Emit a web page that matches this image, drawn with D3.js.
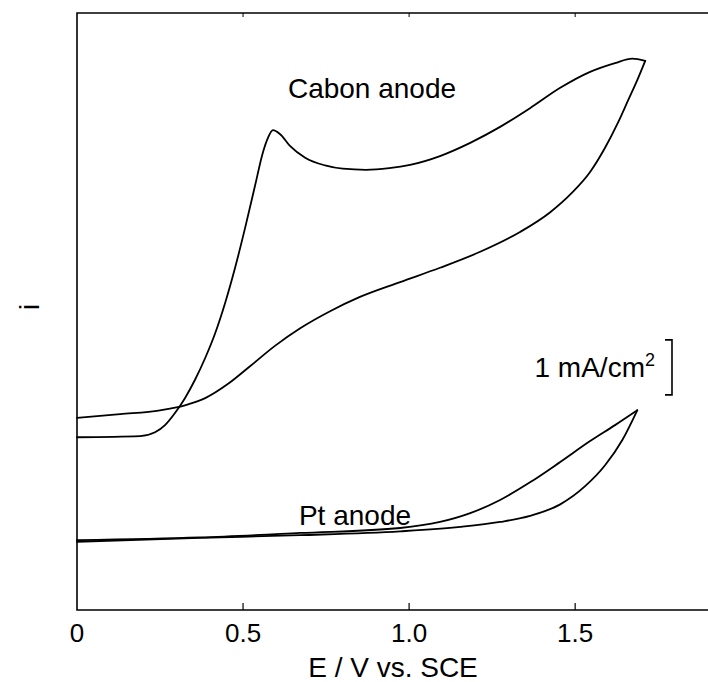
<!DOCTYPE html>
<html>
<head>
<meta charset="utf-8">
<script src="https://cdn.jsdelivr.net/npm/d3@7"></script>
<style>
  body { margin: 0; background: #fff; }
  svg text { font-family: 'Liberation Sans', Arial, sans-serif; fill: #000; }
</style>
</head>
<body>
<svg id="chart" width="708" height="682"></svg>
<script>
// potential (V vs. SCE) and current density (mA/cm2)
const carbonForwardE = [0, 0.19, 0.235, 0.265, 0.295, 0.325, 0.355, 0.386, 0.416, 0.446, 0.476, 0.506, 0.536, 0.56, 0.575, 0.59, 0.611, 0.642, 0.687, 0.747, 0.80, 0.87, 0.94, 1.003, 1.093, 1.184, 1.274, 1.364, 1.455, 1.545, 1.62, 1.672, 1.711]
const carbonForwardI = [1.87, 1.89, 1.96, 2.09, 2.31, 2.58, 2.91, 3.31, 3.76, 4.31, 4.95, 5.67, 6.44, 7.05, 7.31, 7.45, 7.38, 7.16, 6.95, 6.81, 6.75, 6.73, 6.76, 6.82, 6.98, 7.22, 7.51, 7.85, 8.22, 8.51, 8.67, 8.75, 8.71]
const carbonReverseE = [1.711, 1.687, 1.66, 1.63, 1.59, 1.545, 1.49, 1.425, 1.334, 1.214, 1.093, 0.973, 0.852, 0.762, 0.672, 0.596, 0.521, 0.455, 0.386, 0.325, 0.25, 0.13, 0]
const carbonReverseI = [8.71, 8.36, 8.0, 7.6, 7.13, 6.69, 6.31, 5.96, 5.6, 5.24, 4.95, 4.69, 4.42, 4.16, 3.85, 3.53, 3.16, 2.84, 2.58, 2.45, 2.36, 2.29, 2.22]

const ptForwardE = [0, 0.37, 0.672, 0.973, 1.154, 1.274, 1.364, 1.455, 1.53, 1.59, 1.642, 1.687]
const ptForwardI = [-0.03, 0.04, 0.09, 0.16, 0.24, 0.33, 0.44, 0.65, 0.98, 1.36, 1.82, 2.36]
const ptReverseE = [1.687, 1.62, 1.545, 1.455, 1.364, 1.274, 1.184, 1.093, 0.973, 0.672, 0.37, 0]
const ptReverseI = [2.36, 2.09, 1.8, 1.42, 1.05, 0.73, 0.49, 0.33, 0.22, 0.13, 0.05, 0.0]

const xTicks = [0, 0.5, 1.0, 1.5]
const xTickLabels = ['0', '0.5', '1.0', '1.5']
const scaleBarFrom = 2.64 // mA/cm2, bottom of the 1 mA/cm2 bracket

const svg = d3.select('#chart')
const m = { left: 77, right: 708, top: 13, bottom: 610 }

const x = d3.scaleLinear().domain([0, 1.9]).range([m.left, m.right])
const y = d3.scaleLinear().domain([-1.27, 9.58]).range([m.bottom, m.top])

// frame (right side falls outside the picture)
svg.append('path')
  .attr('d', `M${m.right + 5},${m.top}H${m.left}V${m.bottom}H${m.right + 5}`)
  .attr('fill', 'none')
  .attr('stroke', '#000')
  .attr('stroke-width', 1.6)

// inward ticks, bottom and top
const ticks = xTicks.slice(1)
svg.append('g')
  .selectAll('line')
  .data(ticks)
  .join('line')
  .attr('x1', d => x(d)).attr('x2', d => x(d))
  .attr('y1', m.bottom).attr('y2', m.bottom - 7)
  .attr('stroke', '#000').attr('stroke-width', 1.2)
svg.append('g')
  .selectAll('line')
  .data(ticks)
  .join('line')
  .attr('x1', d => x(d)).attr('x2', d => x(d))
  .attr('y1', m.top).attr('y2', m.top + 4)
  .attr('stroke', '#000').attr('stroke-width', 1)

svg.append('g')
  .selectAll('text')
  .data(xTicks)
  .join('text')
  .attr('x', d => x(d))
  .attr('y', 642)
  .attr('text-anchor', 'middle')
  .style('font-size', '26px')
  .text((d, i) => xTickLabels[i])

svg.append('text')
  .attr('x', 393).attr('y', 677)
  .attr('text-anchor', 'middle')
  .style('font-size', '28px')
  .text('E / V vs. SCE')

svg.append('text')
  .attr('transform', 'translate(39,307) rotate(-90)')
  .attr('text-anchor', 'middle')
  .style('font-size', '28px')
  .text('i')

// curves: each sweep is monotone in E
const line = d3.line()
  .x(d => x(d[0]))
  .y(d => y(d[1]))
  .curve(d3.curveMonotoneX)

function sweep(es, is) {
  return es.map((e, k) => [e, is[k]]).sort((a, b) => a[0] - b[0])
}

const sweeps = [
  sweep(carbonForwardE, carbonForwardI),
  sweep(carbonReverseE, carbonReverseI),
  sweep(ptForwardE, ptForwardI),
  sweep(ptReverseE, ptReverseI)
]

svg.append('g')
  .selectAll('path')
  .data(sweeps)
  .join('path')
  .attr('d', line)
  .attr('fill', 'none')
  .attr('stroke', '#000')
  .attr('stroke-width', 1.8)
  .attr('stroke-linejoin', 'round')
  .attr('stroke-linecap', 'round')

svg.append('text')
  .attr('x', 372).attr('y', 98)
  .attr('text-anchor', 'middle')
  .style('font-size', '28px')
  .text('Cabon anode')

svg.append('text')
  .attr('x', 355).attr('y', 525)
  .attr('text-anchor', 'middle')
  .style('font-size', '28px')
  .text('Pt anode')

// 1 mA/cm2 scale bracket
const bx = 672
svg.append('path')
  .attr('d', `M${bx - 7},${y(scaleBarFrom + 1)}H${bx}V${y(scaleBarFrom)}H${bx - 7}`)
  .attr('fill', 'none')
  .attr('stroke', '#000')
  .attr('stroke-width', 1.6)

const lbl = svg.append('text')
  .attr('x', 655).attr('y', y(scaleBarFrom + 0.5) + 10)
  .attr('text-anchor', 'end')
  .style('font-size', '28px')
lbl.append('tspan').text('1 mA/cm')
lbl.append('tspan').attr('dy', -11).style('font-size', '18px').text('2')
</script>
</body>
</html>
